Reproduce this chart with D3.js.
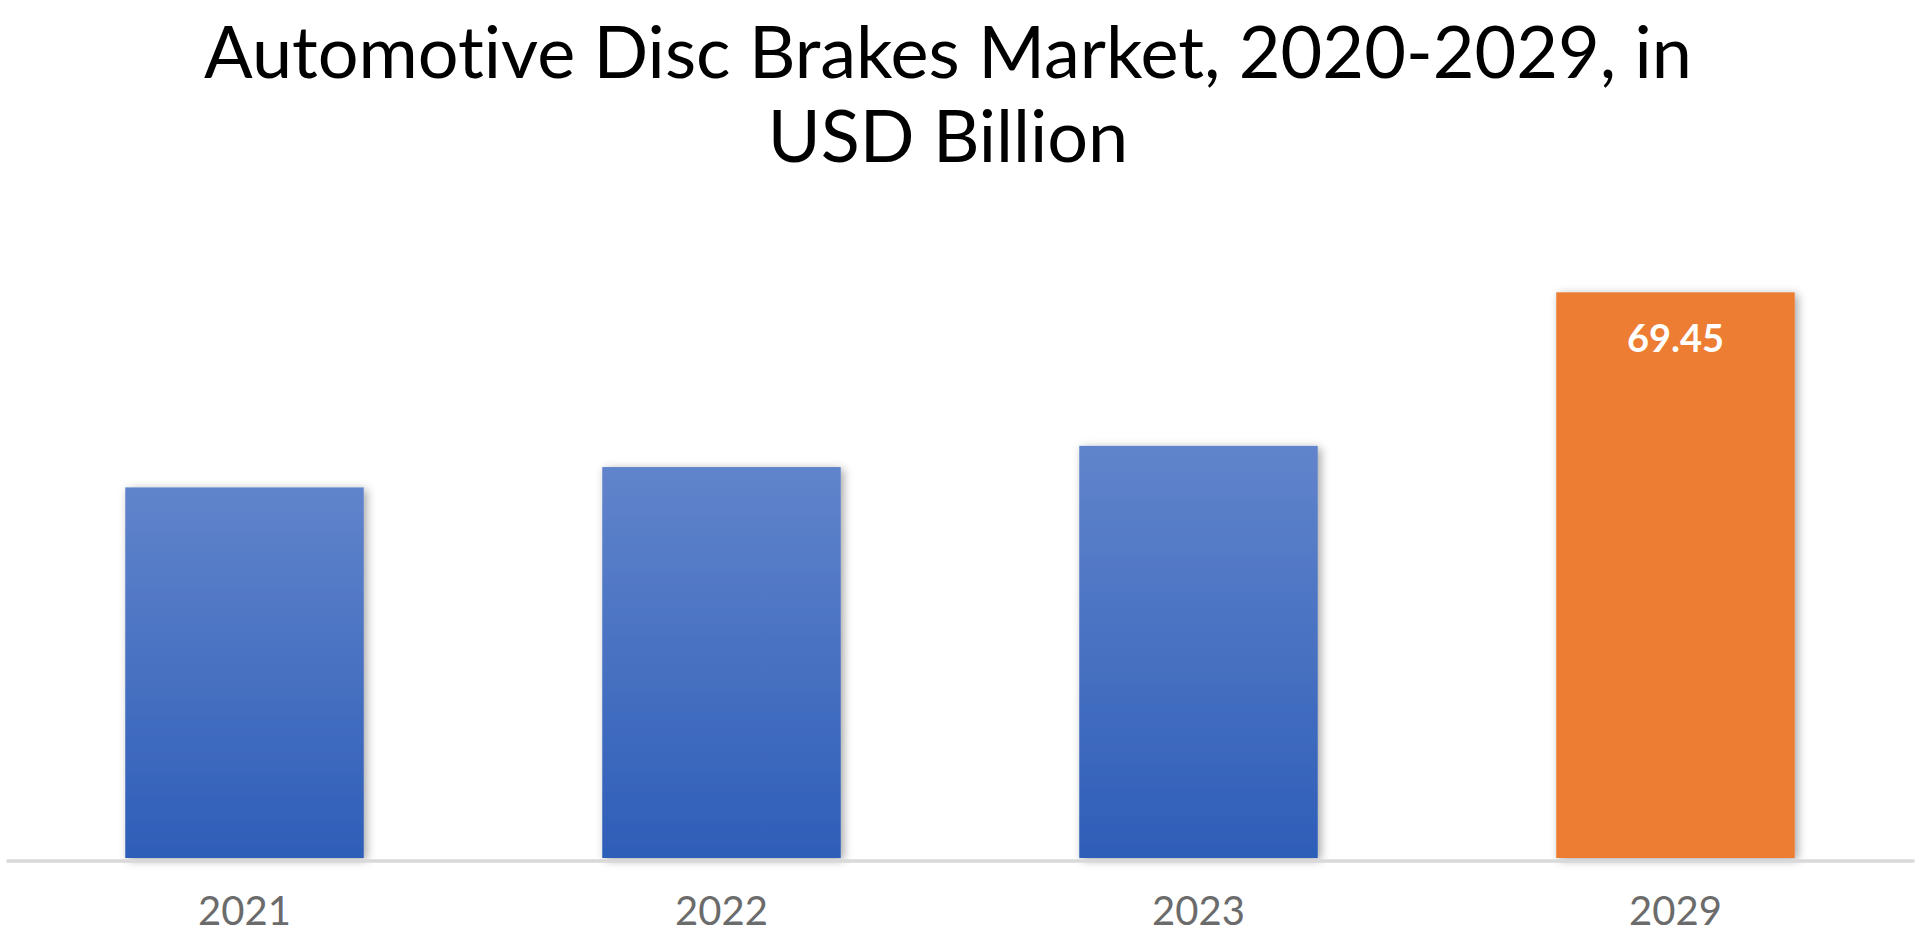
<!DOCTYPE html>
<html>
<head>
<meta charset="utf-8">
<script src="https://cdn.jsdelivr.net/npm/d3@7/dist/d3.min.js"></script>
<style>
  html, body { margin: 0; padding: 0; background: #fff; }
  svg { display: block; }
  text { font-variant-ligatures: none; }
</style>
</head>
<body>
<div id="chart"></div>
<script>
// chart data
var years = ["2021", "2022", "2023", "2029"];
var values = [45.5, 48.0, 50.6, 69.45];
var labelled = [false, false, false, true];
var titleLines = ["Automotive Disc Brakes Market, 2020-2029, in", "USD Billion"];

var width = 1920, height = 943;

var svg = d3.select("#chart").append("svg")
    .attr("width", width)
    .attr("height", height);

var defs = svg.append("defs");

var grad = defs.append("linearGradient")
    .attr("id", "blueGrad")
    .attr("x1", 0).attr("y1", 0).attr("x2", 0).attr("y2", 1);
grad.append("stop").attr("offset", "0%").attr("stop-color", "#6184cb");
grad.append("stop").attr("offset", "100%").attr("stop-color", "#2e5eb8");

var shadow = defs.append("filter")
    .attr("id", "barShadow")
    .attr("x", "-20%").attr("y", "-10%")
    .attr("width", "140%").attr("height", "120%");
shadow.append("feDropShadow")
    .attr("dx", 3).attr("dy", 2)
    .attr("stdDeviation", 5)
    .attr("flood-color", "#000")
    .attr("flood-opacity", 0.35);

// scales
var x = d3.scaleBand()
    .domain(years)
    .range([6, 1914])
    .paddingInner(0.5)
    .paddingOuter(0.25);

var y = d3.scaleLinear()
    .domain([0, 80])
    .range([858, 206.4]);

// title
var title = svg.append("text")
    .attr("text-anchor", "middle")
    .style("font-family", "Lato, 'Noto Sans', sans-serif")
    .style("font-size", "72px")
    .style("fill", "#000");
title.selectAll("tspan")
    .data(titleLines)
    .enter()
    .append("tspan")
    .attr("x", 948)
    .attr("y", function (d, i) { return 78 + i * 83.5; })
    .text(function (d) { return d; });

// bars
var bars = svg.append("g").attr("id", "bars");
bars.selectAll("rect")
    .data(years)
    .enter()
    .append("rect")
    .attr("x", function (d) { return x(d); })
    .attr("y", function (d, i) { return y(values[i]); })
    .attr("width", x.bandwidth())
    .attr("height", function (d, i) { return y(0) - y(values[i]); })
    .attr("fill", function (d, i) { return labelled[i] ? "#ed7d31" : "url(#blueGrad)"; })
    .attr("filter", "url(#barShadow)");

// x axis
var xAxis = d3.axisBottom(x).tickSize(0).tickPadding(36);
var gx = svg.append("g")
    .attr("id", "xAxis")
    .attr("transform", "translate(0," + 860.5 + ")")
    .call(xAxis);
gx.select(".domain")
    .attr("stroke", "#d9d9d9")
    .attr("stroke-width", 3.5);
gx.selectAll("text")
    .style("font-family", "Lato, 'Noto Sans', sans-serif")
    .style("font-size", "40px")
    .style("fill", "#6b6b6b")
    .attr("dy", "0.71em");

// value label
svg.append("g").attr("id", "labels")
    .selectAll("text")
    .data(years.filter(function (d, i) { return labelled[i]; }))
    .enter()
    .append("text")
    .attr("x", function (d) { return x(d) + x.bandwidth() / 2; })
    .attr("y", function (d) { return y(values[years.indexOf(d)]) + 60; })
    .attr("text-anchor", "middle")
    .style("font-family", "Lato, 'Noto Sans', sans-serif")
    .style("font-weight", "bold")
    .style("font-size", "38px")
    .style("fill", "#fff")
    .text(function (d) { return values[years.indexOf(d)].toFixed(2); });
</script>
</body>
</html>
